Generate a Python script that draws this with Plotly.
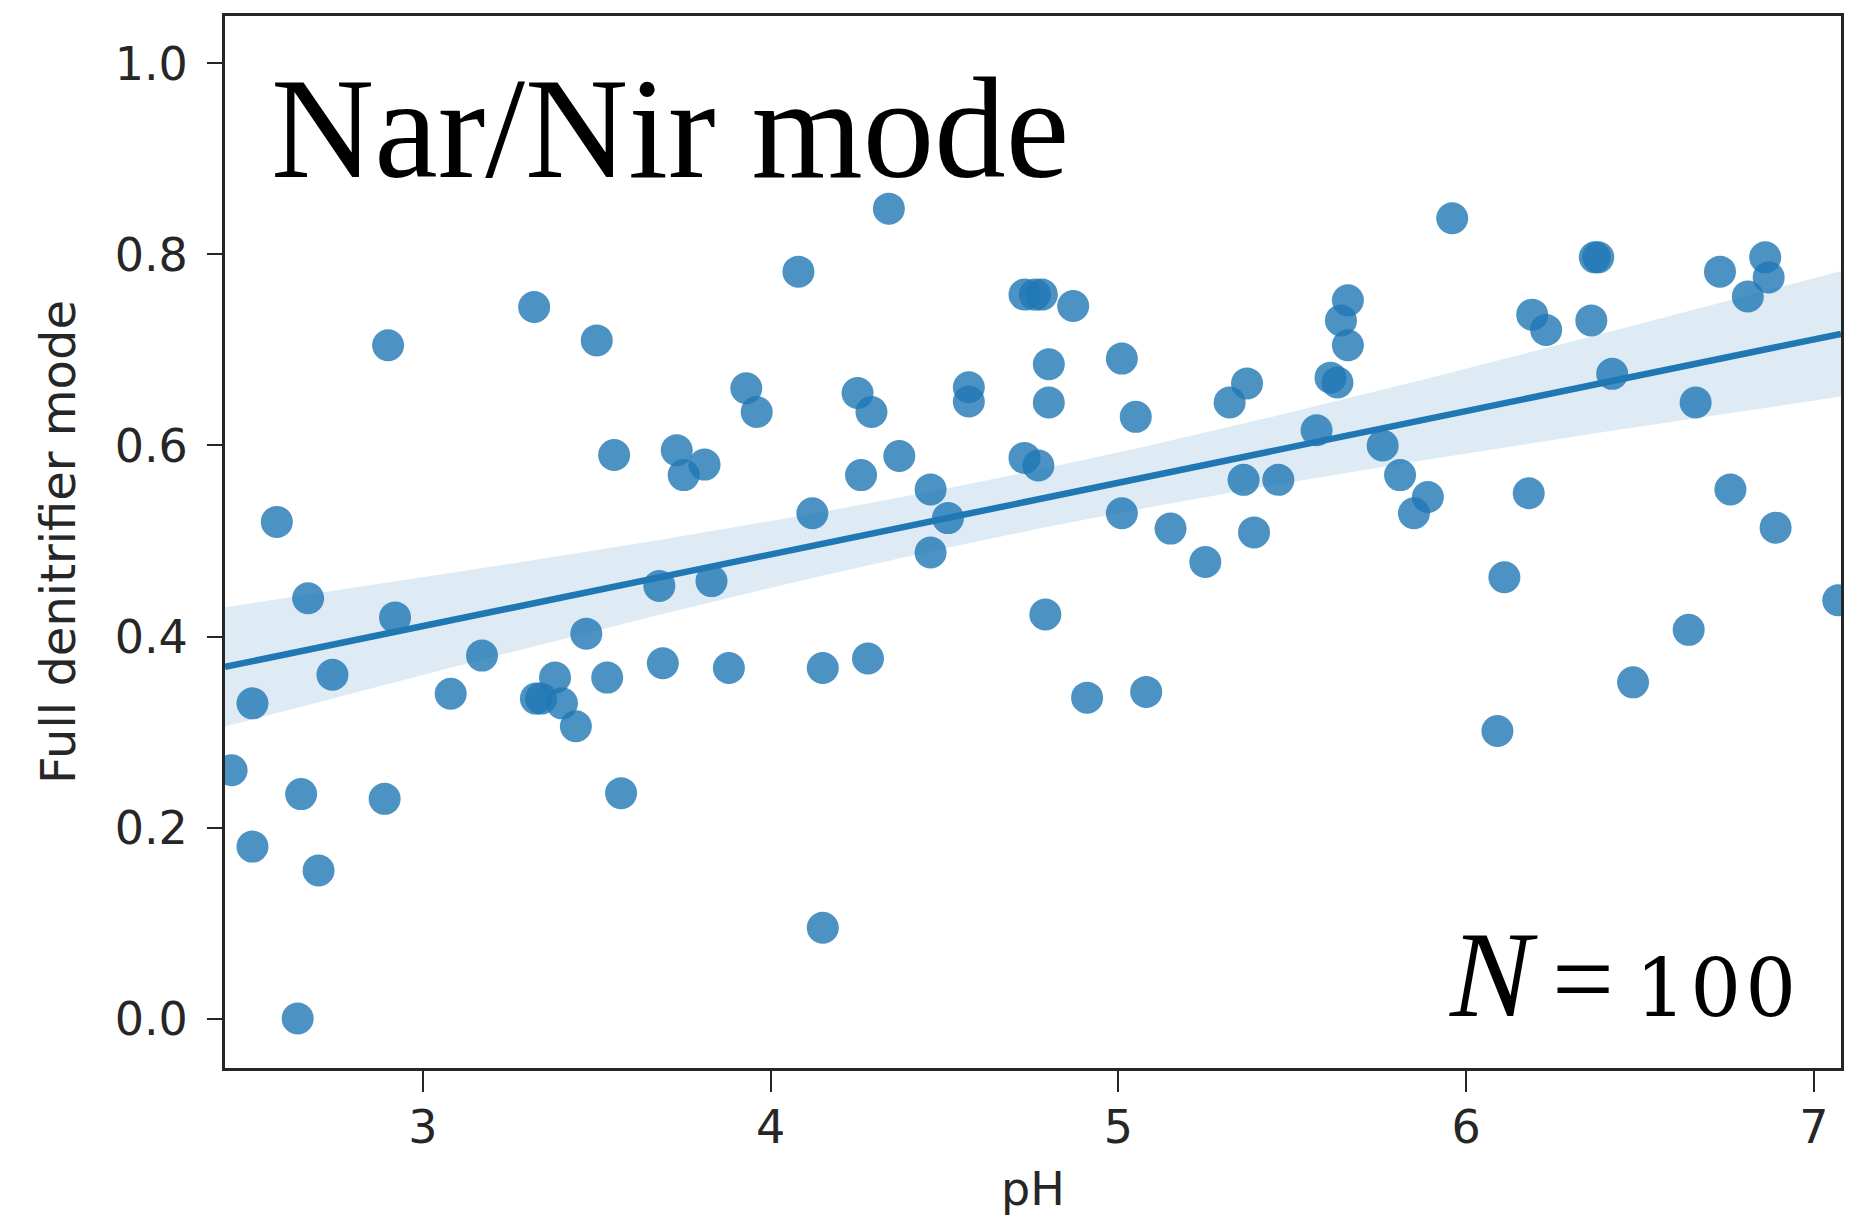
import numpy as np
import plotly.graph_objects as go

# ---- data ----
ph = [
    2.45, 2.51, 2.51, 2.58, 2.64, 2.65, 2.67, 2.70, 2.74, 2.89,
    2.90, 2.92, 3.08, 3.17, 3.32, 3.325, 3.34, 3.38, 3.40, 3.44,
    3.47, 3.50, 3.53, 3.55, 3.57, 3.68, 3.69, 3.73, 3.75, 3.81,
    3.83, 3.88, 3.93, 3.96, 4.08, 4.12, 4.15, 4.15, 4.25, 4.26,
    4.28, 4.29, 4.34, 4.37, 4.46, 4.46, 4.51, 4.57, 4.57, 4.73,
    4.73, 4.76, 4.77, 4.78, 4.79, 4.80, 4.80, 4.87, 4.91, 5.01,
    5.01, 5.05, 5.08, 5.15, 5.25, 5.32, 5.36, 5.37, 5.39, 5.46,
    5.57, 5.61, 5.63, 5.64, 5.66, 5.66, 5.76, 5.81, 5.85, 5.89,
    5.96, 6.09, 6.11, 6.18, 6.19, 6.23, 6.36, 6.37, 6.38, 6.42,
    6.48, 6.64, 6.66, 6.73, 6.76, 6.81, 6.86, 6.87, 6.89, 7.07,
]
full_mode = [
    0.26, 0.33, 0.18, 0.52, 0.00, 0.235, 0.44, 0.155, 0.36, 0.23,
    0.705, 0.42, 0.34, 0.38, 0.745, 0.335, 0.335, 0.357, 0.33, 0.306,
    0.403, 0.71, 0.357, 0.59, 0.236, 0.453, 0.372, 0.595, 0.569, 0.58,
    0.458, 0.367, 0.66, 0.635, 0.782, 0.529, 0.095, 0.367, 0.655, 0.569,
    0.377, 0.635, 0.848, 0.589, 0.554, 0.488, 0.524, 0.661, 0.646, 0.758,
    0.587, 0.758, 0.579, 0.758, 0.423, 0.685, 0.645, 0.746, 0.336, 0.691,
    0.529, 0.63, 0.342, 0.513, 0.478, 0.645, 0.564, 0.665, 0.509, 0.564,
    0.616, 0.671, 0.666, 0.731, 0.705, 0.752, 0.600, 0.569, 0.529, 0.546,
    0.838, 0.301, 0.462, 0.550, 0.737, 0.721, 0.731, 0.797, 0.797, 0.675,
    0.352, 0.407, 0.645, 0.782, 0.554, 0.756, 0.797, 0.776, 0.514, 0.438,
]
x_ticks = [3, 4, 5, 6, 7]
y_ticks = [0.0, 0.2, 0.4, 0.6, 0.8, 1.0]
x_range = [2.431, 7.078]
y_range = [-0.0518, 1.0497]
title_text = "Nar/Nir mode"
n_text = ("<i>N</i><span style='font-size:80px'> </span>"
          "<span style='font-size:110px'>=</span>"
          "<span style='font-size:85px'> </span>"
          "<span style='font-family:DejaVu Serif;font-size:80px;letter-spacing:4px'>100</span>")

# ---- regression (OLS with 95% CI of the mean) ----
xa = np.array(ph)
ya = np.array(full_mode)
n = len(xa)
slope, intercept = np.polyfit(xa, ya, 1)
resid = ya - (slope * xa + intercept)
s = np.sqrt(np.sum(resid ** 2) / (n - 2))
xbar = xa.mean()
sxx = np.sum((xa - xbar) ** 2)
grid = np.linspace(x_range[0], x_range[1], 200)
fit = slope * grid + intercept
se = s * np.sqrt(1.0 / n + (grid - xbar) ** 2 / sxx)
tcrit = 1.9845
lo = fit - tcrit * se
hi = fit + tcrit * se

blue = "#1f77b4"
axis_col = "#262626"

fig = go.Figure()
fig.add_trace(go.Scatter(
    x=ph, y=full_mode, mode="markers",
    marker=dict(size=32, color=blue, opacity=0.8, line=dict(width=0)),
    showlegend=False, hoverinfo="skip",
))
fig.add_trace(go.Scatter(
    x=grid, y=lo, mode="lines", line=dict(width=0, color=blue),
    showlegend=False, hoverinfo="skip",
))
fig.add_trace(go.Scatter(
    x=grid, y=hi, mode="lines", line=dict(width=0, color=blue),
    fill="tonexty", fillcolor="rgba(31,119,180,0.15)",
    showlegend=False, hoverinfo="skip",
))
fig.add_trace(go.Scatter(
    x=grid, y=fit, mode="lines", line=dict(width=6.5, color=blue),
    showlegend=False, hoverinfo="skip",
))

tick_font = dict(family="DejaVu Sans", size=46, color=axis_col)
fig.update_xaxes(
    range=x_range, tickvals=x_ticks, ticktext=[str(v) for v in x_ticks],
    showgrid=False, zeroline=False, automargin=False,
    showline=True, linecolor=axis_col, linewidth=3, mirror=True,
    ticks="outside", ticklen=21, tickwidth=2, tickcolor=axis_col,
    tickfont=tick_font, ticklabelstandoff=-4,
    title=dict(text="pH", font=dict(family="DejaVu Sans", size=46, color=axis_col), standoff=20),
)
fig.update_yaxes(
    range=y_range, tickvals=y_ticks, ticktext=[f"{v:.1f}" for v in y_ticks],
    showgrid=False, zeroline=False, automargin=False,
    showline=True, linecolor=axis_col, linewidth=3, mirror=True,
    ticks="outside", ticklen=15, tickwidth=2, tickcolor=axis_col,
    tickfont=tick_font, ticklabelstandoff=10,
    title=dict(text="Full denitrifier mode", font=dict(family="DejaVu Sans", size=48, color=axis_col), standoff=24),
)

fig.add_annotation(
    text=title_text, xref="paper", yref="paper", x=0.027, y=0.816,
    xanchor="left", yanchor="bottom", showarrow=False,
    font=dict(family="Liberation Serif", size=143, color="black"),
)
fig.add_annotation(
    text=n_text, xref="paper", yref="paper", x=0.976, y=0.022,
    xanchor="right", yanchor="bottom", showarrow=False,
    font=dict(family="Liberation Serif", size=123, color="black"),
)

fig.update_layout(
    width=1865, height=1221,
    margin=dict(l=225, r=24, t=16, b=153, pad=0),
    paper_bgcolor="white", plot_bgcolor="white",
)

fig.write_html(
    "out.html",
    config={"displayModeBar": False},
    post_script="document.body.style.margin='0';document.body.style.overflow='hidden';",
)
